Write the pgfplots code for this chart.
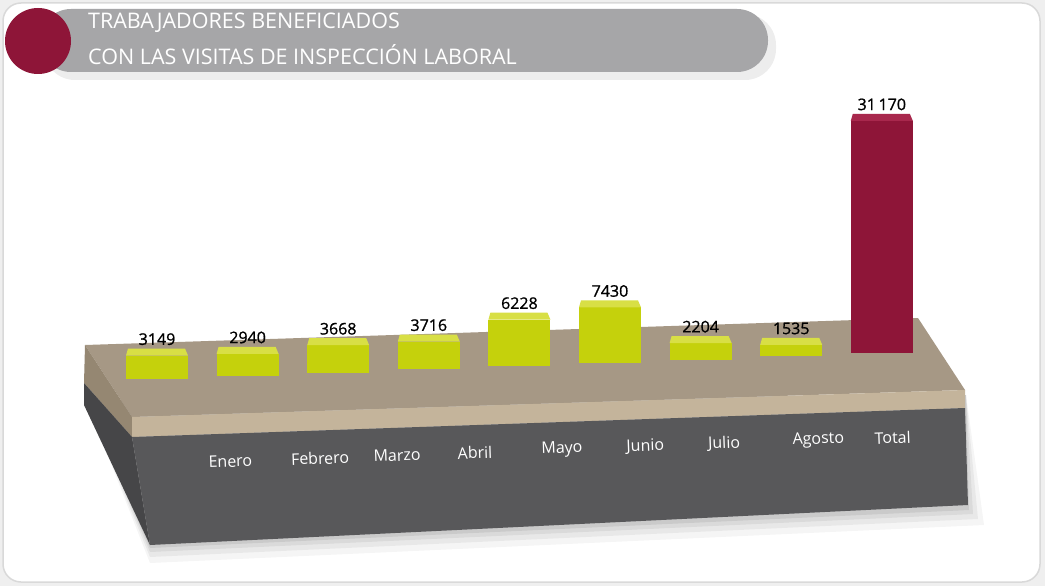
\documentclass[border=0pt]{standalone}
\usepackage{pgfplots}
\pgfplotsset{compat=1.18}
\usepackage{fontspec}
\setmainfont{Open Sans}
\newfontfamily\semib[FakeBold=1.0]{Open Sans}
\definecolor{maroon}{HTML}{8E1538}
\definecolor{maroontop}{HTML}{A8284D}
\definecolor{barfront}{HTML}{C5D10C}
\definecolor{bartop}{HTML}{D8DF45}
\definecolor{tantop}{HTML}{A69885}
\definecolor{tanside}{HTML}{958772}
\definecolor{tanfront}{HTML}{C4B49B}
\definecolor{grayfront}{HTML}{58585A}
\definecolor{grayside}{HTML}{464648}
\definecolor{pillgray}{HTML}{A6A6A8}
\definecolor{bgouter}{HTML}{EFEFEF}
\pgfdeclareplotmark{boxtop}{%
  \pgfpathmoveto{\pgfqpoint{-31pt}{0pt}}%
  \pgfpathlineto{\pgfqpoint{31pt}{0pt}}%
  \pgfpathlineto{\pgfqpoint{28pt}{7pt}}%
  \pgfpathlineto{\pgfqpoint{-29pt}{7pt}}%
  \pgfpathclose
  \pgfusepathqfill}
\begin{document}
\begin{tikzpicture}[x=1pt,y=-1pt]
\useasboundingbox (0,0) rectangle (1045,586);
\fill[bgouter] (0,0) rectangle (1045,586);
\fill[white, draw=gray!30, line width=1.5pt, rounded corners=18pt] (3,3) rectangle (1040,582);
% title
\fill[black, opacity=0.07, rounded corners=31pt] (44,14) rectangle (776,80);
\fill[pillgray, rounded corners=31pt] (40,9) rectangle (768,72);
\fill[maroon] (38,41) circle (33pt);
\node[anchor=west, text=white, font=\fontsize{21.5}{21.5}\selectfont, inner sep=0pt] at (88,23) {TRABAJADORES BENEFICIADOS};
\node[anchor=west, text=white, font=\fontsize{21.5}{21.5}\selectfont, inner sep=0pt] at (88,55) {CON LAS VISITAS DE INSPECCIÓN LABORAL};
% platform shadow
\foreach \o/\a in {18/0.04,12/0.05,7/0.06,3/0.07}{
  \fill[black,opacity=\a] (86,400) -- (966,395) -- (966+\o,507+\o) -- (150,545+\o) -- cycle;
}
% platform
\fill[tantop] (85,345) -- (918,318) -- (965,390) -- (132,417) -- cycle;
\fill[tanside] (85,345) -- (132,417) -- (132,437) -- (84,383) -- cycle;
\fill[tanfront] (132,417) -- (965,390) -- (965,408) -- (132,437) -- cycle;
\fill[grayside] (84,383) -- (132,437) -- (150,545) -- (84,405) -- cycle;
\fill[grayfront] (132,437) -- (965,408) -- (968,505) -- (150,545) -- cycle;
\begin{axis}[
  at={(157pt,-379pt)}, anchor=origin,
  x={(90.6pt,3.25pt)}, y={(0pt,0.00745pt)},
  xmin=-0.5, xmax=8.5, ymin=0, ymax=33000,
  axis line style={draw=none}, major tick length=0pt, ytick=\empty,
  xtick={0.81,1.80,2.65,3.51,4.47,5.39,6.26,7.30,8.12},
  xticklabels={Enero,Febrero,Marzo,Abril,Mayo,Junio,Julio,Agosto,Total},
  xticklabel style={font=\fontsize{16}{16}\selectfont, text=white, anchor=center, yshift=-85pt, rotate=2},
  clip=false,
  every node near coord/.append style={font=\semib\fontsize{16}{16}\selectfont, text=black, anchor=south, yshift=7pt},
  /pgf/number format/.cd, fixed, precision=0, 1000 sep={\,}, min exponent for 1000 sep=4, assume math mode=true,
]
% each bar: a 62pt-wide stroke from the value down to 0, with a lighter top face
\addplot[mark=boxtop, mark options={fill=bartop, draw=none}, draw=none, nodes near coords,
  error bars/.cd, y dir=minus, y fixed relative=1, error mark=none,
  error bar style={line width=62pt, color=barfront, line cap=butt}]
  coordinates {(0,3149) (1,2940) (2,3668) (3,3716) (4,6228) (5,7430) (6,2204) (7,1535)};
\addplot[mark=boxtop, mark options={fill=maroontop, draw=none}, draw=none, nodes near coords,
  error bars/.cd, y dir=minus, y fixed relative=1, error mark=none,
  error bar style={line width=62pt, color=maroon, line cap=butt}]
  coordinates {(8,31170)};
\end{axis}
\end{tikzpicture}
\end{document}
